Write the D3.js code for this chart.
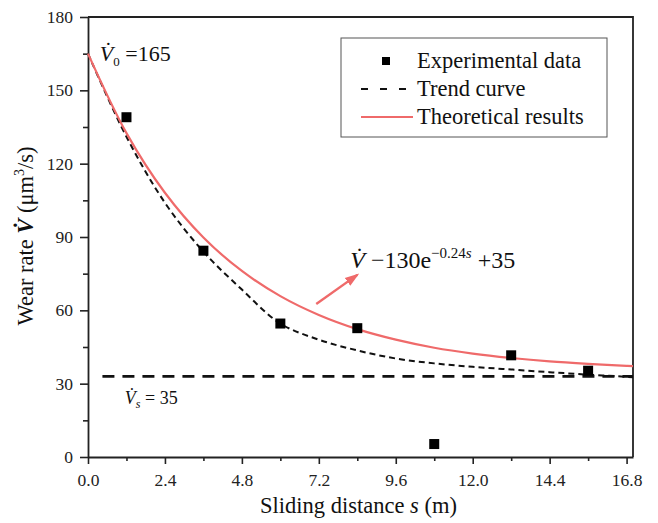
<!DOCTYPE html>
<html lang="en">
<head>
    <meta charset="UTF-8"/>
    <title>Wear rate vs sliding distance</title>
    <script src="https://d3js.org/d3.v7.min.js"></script>
    <style>
        body { margin: 0; background: #fff; }
        svg { display: block; font-family: "Liberation Serif", "Times New Roman", serif; }
    </style>
</head>
<body>
    <script>
        // experimental points
        var expS = [1.2, 3.6, 6.0, 8.4, 10.8, 13.2, 15.6];
        var expV = [139, 84.4, 54.6, 52.7, 5.3, 41.6, 35.3];

        // trend curve (dashed)
        var trendS = [0, 1.2, 2.4, 3.6, 4.8, 6.0, 7.2, 8.4, 9.6, 10.8, 12.0, 13.2, 14.4, 15.6, 16.8, 17];
        var trendV = [165, 131, 104, 84, 68.5, 54.6, 48.0, 43.6, 40.3, 38.3, 36.9, 35.8, 34.7, 33.7, 32.8, 32.6];

        // theoretical results (red)
        var theoS = [0, 1.2, 2.4, 3.6, 4.8, 6.0, 7.2, 8.4, 9.6, 10.8, 12.0, 13.2, 14.4, 15.6, 16.8, 17];
        var theoV = [165, 132.5, 108.1, 89.8, 76.1, 65.8, 58.1, 52.3, 48.0, 44.7, 42.3, 40.5, 39.1, 38.1, 37.3, 37.2];

        // steady-state line
        var steadyS = [0.45, 17];
        var steadyV = 33;

        var xTicks = [0, 2.4, 4.8, 7.2, 9.6, 12.0, 14.4, 16.8];
        var yTicks = [0, 30, 60, 90, 120, 150, 180];

        var w = 658, h = 523;
        var padL = 88, padR = 633, padT = 17, padB = 457;
        var red = "#ef6a6a";

        var x = d3.scaleLinear().domain([0, 17]).range([padL, padR]);
        var y = d3.scaleLinear().domain([0, 180]).range([padB, padT]);

        var svg = d3.select("body").append("svg")
            .attr("width", w)
            .attr("height", h);

        // minor ticks
        var xMinor = d3.range(1.2, 17, 2.4);
        var yMinor = d3.range(15, 180, 30);
        svg.append("g")
            .attr("transform", "translate(0," + padB + ")")
            .call(d3.axisBottom(x).tickValues(xMinor).tickSize(4).tickFormat(""))
            .call(function(g) { g.select(".domain").remove(); })
            .selectAll("line").attr("stroke", "#222").attr("stroke-width", 1.6);
        svg.append("g")
            .attr("transform", "translate(" + padL + ",0)")
            .call(d3.axisLeft(y).tickValues(yMinor).tickSize(5).tickFormat(""))
            .call(function(g) { g.select(".domain").remove(); })
            .selectAll("line").attr("stroke", "#222").attr("stroke-width", 1.6);

        // major axes
        var xAxis = svg.append("g")
            .attr("transform", "translate(0," + padB + ")")
            .call(d3.axisBottom(x).tickValues(xTicks).tickSize(7).tickSizeOuter(0).tickPadding(10)
                .tickFormat(d3.format(".1f")));
        var yAxis = svg.append("g")
            .attr("transform", "translate(" + padL + ",0)")
            .call(d3.axisLeft(y).tickValues(yTicks).tickSize(8).tickSizeOuter(0).tickPadding(7));
        [xAxis, yAxis].forEach(function(a) {
            a.selectAll("line").attr("stroke", "#222").attr("stroke-width", 1.6);
            a.select(".domain").attr("stroke", "#222").attr("stroke-width", 1.8);
            a.selectAll("text")
                .attr("font-family", "Liberation Serif")
                .attr("font-size", 17.5)
                .attr("fill", "#222");
        });

        // frame top + right
        svg.append("path")
            .attr("d", "M" + padL + "," + padT + "H" + padR + "V" + padB)
            .attr("fill", "none")
            .attr("stroke", "#222")
            .attr("stroke-width", 1.8);

        // steady-state dashed line
        svg.append("line")
            .attr("x1", x(steadyS[0])).attr("x2", x(steadyS[1]))
            .attr("y1", y(steadyV)).attr("y2", y(steadyV))
            .attr("stroke", "#111")
            .attr("stroke-width", 2.6)
            .attr("stroke-dasharray", "12,8");

        var line = d3.line()
            .x(function(d) { return x(d[0]); })
            .y(function(d) { return y(d[1]); })
            .curve(d3.curveCatmullRom.alpha(0.5));

        // trend curve
        svg.append("path")
            .datum(d3.zip(trendS, trendV))
            .attr("d", line)
            .attr("fill", "none")
            .attr("stroke", "#111")
            .attr("stroke-width", 2)
            .attr("stroke-dasharray", "6,4");

        // theoretical results
        svg.append("path")
            .datum(d3.zip(theoS, theoV))
            .attr("d", line)
            .attr("fill", "none")
            .attr("stroke", red)
            .attr("stroke-width", 2.2);

        // experimental data
        var sq = 10;
        svg.selectAll("rect.pt")
            .data(d3.zip(expS, expV))
            .enter()
            .append("rect")
            .attr("class", "pt")
            .attr("x", function(d) { return x(d[0]) - sq / 2; })
            .attr("y", function(d) { return y(d[1]) - sq / 2; })
            .attr("width", sq)
            .attr("height", sq)
            .attr("fill", "#000");

        // arrow to formula
        svg.append("defs").append("marker")
            .attr("id", "head")
            .attr("viewBox", "0 0 12 10")
            .attr("refX", 10).attr("refY", 5)
            .attr("markerWidth", 6).attr("markerHeight", 5)
            .attr("orient", "auto")
            .append("path")
            .attr("d", "M0,1L12,5L0,9z")
            .attr("fill", red);
        svg.append("line")
            .attr("x1", x(7.12)).attr("y1", y(62.6))
            .attr("x2", x(8.4)).attr("y2", y(74.5))
            .attr("stroke", red)
            .attr("stroke-width", 2.4)
            .attr("marker-end", "url(#head)");

        // annotations
        function vdot(t) {
            return t.append("tspan").attr("font-style", "italic").text("V\u0307");
        }
        var t0 = svg.append("text")
            .attr("x", x(0.37)).attr("y", y(162.2))
            .attr("font-size", 22).attr("fill", "#111");
        vdot(t0);
        t0.append("tspan").attr("font-size", 13).attr("dy", 5).text("0");
        t0.append("tspan").attr("dy", -5).text(" =165");

        var ts = svg.append("text")
            .attr("x", x(1.15)).attr("y", y(21.7))
            .attr("font-size", 18).attr("fill", "#111");
        vdot(ts);
        ts.append("tspan").attr("font-size", 12).attr("font-style", "italic").attr("dy", 4).text("s");
        ts.append("tspan").attr("dy", -4).text(" = 35");

        var tf = svg.append("text")
            .attr("x", x(8.18)).attr("y", y(77.5))
            .attr("font-size", 24).attr("fill", "#111");
        vdot(tf);
        tf.append("tspan").text(" \u2212130e");
        tf.append("tspan").attr("font-size", 15).attr("dy", -10).text("\u22120.24");
        tf.append("tspan").attr("font-size", 15).attr("font-style", "italic").text("s");
        tf.append("tspan").attr("dy", 10).text(" +35");

        // axis titles
        var xt = svg.append("text")
            .attr("x", (padL + padR) / 2 - 2)
            .attr("y", 513)
            .attr("text-anchor", "middle")
            .attr("font-size", 22.5)
            .attr("fill", "#111");
        xt.append("tspan").text("Sliding distance ");
        xt.append("tspan").attr("font-style", "italic").text("s");
        xt.append("tspan").text(" (m)");

        var yt = svg.append("text")
            .attr("transform", "translate(33,236) rotate(-90)")
            .attr("text-anchor", "middle")
            .attr("font-size", 22.5)
            .attr("fill", "#111");
        yt.append("tspan").text("Wear rate ");
        yt.append("tspan").attr("font-style", "italic").attr("font-weight", "bold").text("V\u0307");
        yt.append("tspan").text(" (\u03bcm");
        yt.append("tspan").attr("font-size", 14).attr("dy", -9).text("3");
        yt.append("tspan").attr("dy", 9).text("/s)");

        // legend
        var lg = svg.append("g");
        lg.append("rect")
            .attr("x", 341).attr("y", 38)
            .attr("width", 266).attr("height", 99)
            .attr("fill", "#fff")
            .attr("stroke", "#555")
            .attr("stroke-width", 1);
        var items = ["Experimental data", "Trend curve", "Theoretical results"];
        items.forEach(function(name, i) {
            var cy = 61 + i * 28;
            if (i === 0) {
                lg.append("rect").attr("x", 382).attr("y", cy - 4).attr("width", 8).attr("height", 8).attr("fill", "#000");
            } else {
                lg.append("line")
                    .attr("x1", 361).attr("x2", 413)
                    .attr("y1", cy).attr("y2", cy)
                    .attr("stroke", i === 1 ? "#111" : red)
                    .attr("stroke-width", 2)
                    .attr("stroke-dasharray", i === 1 ? "7,12" : null);
            }
            lg.append("text")
                .attr("x", 417).attr("y", cy + 7)
                .attr("font-size", 22.5)
                .attr("fill", "#111")
                .text(name);
        });
    </script>
</body>
</html>
